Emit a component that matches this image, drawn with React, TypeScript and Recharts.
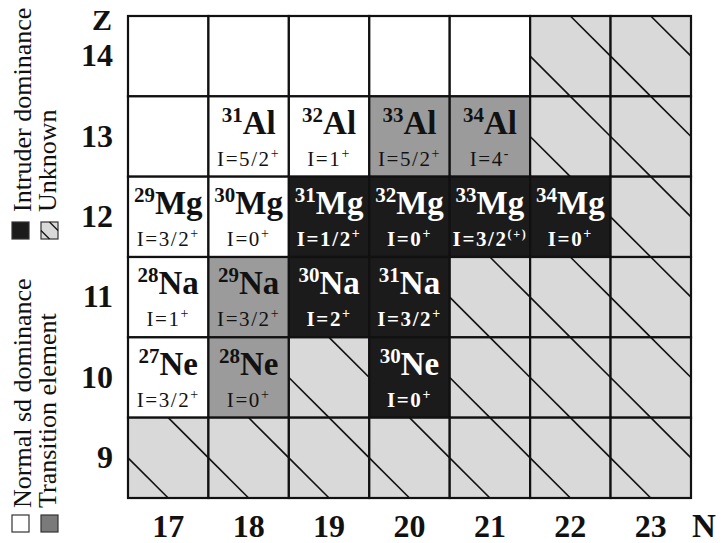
import React from 'react';
import { ScatterChart, Scatter, XAxis, YAxis, ReferenceArea, Legend } from 'recharts';

// Neutron number N (columns) and proton number Z (rows)
const neutronTicks = [17, 18, 19, 20, 21, 22, 23];
const protonTicks = [9, 10, 11, 12, 13, 14];

// Cell classes along N = 17..23 for each Z row
// W: normal sd dominance, T: transition element, I: intruder dominance, U: unknown
const rowZ14 = ['W', 'W', 'W', 'W', 'W', 'U', 'U'];
const rowZ13 = ['W', 'W', 'W', 'T', 'T', 'U', 'U'];
const rowZ12 = ['W', 'W', 'I', 'I', 'I', 'I', 'U'];
const rowZ11 = ['W', 'T', 'I', 'I', 'U', 'U', 'U'];
const rowZ10 = ['W', 'T', 'U', 'I', 'U', 'U', 'U'];
const rowZ9 = ['U', 'U', 'U', 'U', 'U', 'U', 'U'];

const rowsByZ: [number, string[]][] = [
  [14, rowZ14],
  [13, rowZ13],
  [12, rowZ12],
  [11, rowZ11],
  [10, rowZ10],
  [9, rowZ9],
];

// Labelled nuclei: mass number, symbol, ground-state spin and parity
const nuclei = [
  { n: 18, z: 13, mass: 31, symbol: 'Al', spin: '5/2', parity: '+' },
  { n: 19, z: 13, mass: 32, symbol: 'Al', spin: '1', parity: '+' },
  { n: 20, z: 13, mass: 33, symbol: 'Al', spin: '5/2', parity: '+' },
  { n: 21, z: 13, mass: 34, symbol: 'Al', spin: '4', parity: '-' },
  { n: 17, z: 12, mass: 29, symbol: 'Mg', spin: '3/2', parity: '+' },
  { n: 18, z: 12, mass: 30, symbol: 'Mg', spin: '0', parity: '+' },
  { n: 19, z: 12, mass: 31, symbol: 'Mg', spin: '1/2', parity: '+' },
  { n: 20, z: 12, mass: 32, symbol: 'Mg', spin: '0', parity: '+' },
  { n: 21, z: 12, mass: 33, symbol: 'Mg', spin: '3/2', parity: '(+)' },
  { n: 22, z: 12, mass: 34, symbol: 'Mg', spin: '0', parity: '+' },
  { n: 17, z: 11, mass: 28, symbol: 'Na', spin: '1', parity: '+' },
  { n: 18, z: 11, mass: 29, symbol: 'Na', spin: '3/2', parity: '+' },
  { n: 19, z: 11, mass: 30, symbol: 'Na', spin: '2', parity: '+' },
  { n: 20, z: 11, mass: 31, symbol: 'Na', spin: '3/2', parity: '+' },
  { n: 17, z: 10, mass: 27, symbol: 'Ne', spin: '3/2', parity: '+' },
  { n: 18, z: 10, mass: 28, symbol: 'Ne', spin: '0', parity: '+' },
  { n: 20, z: 10, mass: 30, symbol: 'Ne', spin: '0', parity: '+' },
];

// Legend entries, as two stacked pairs
const legendTop = ['Intruder dominance', 'Unknown'];
const legendBottom = ['Normal sd dominance', 'Transition element'];

const FONT = "'Liberation Serif', 'Times New Roman', serif";
const INK = '#111111';

const serif = (size: number, weight: string | number = 'normal', extra: object = {}) => ({
  fontFamily: FONT,
  fontSize: size,
  fontWeight: weight,
  ...extra,
});

const cellFill: Record<string, string> = {
  W: '#ffffff',
  T: '#9b9b9b',
  I: '#1b1b1b',
  U: '#d9d9d9',
};

const cells = rowsByZ.flatMap(([z, kinds]) =>
  kinds.map((kind, i) => ({ n: neutronTicks[i], z, kind }))
);

const kindAt = (n: number, z: number) => {
  const c = cells.find((d) => d.n === n && d.z === z);
  return c ? c.kind : 'W';
};

const CellShape = (props: any, kind: string) => {
  const { x, y, width, height } = props;
  const w = width;
  const h = height;
  return (
    <g>
      <rect x={x} y={y} width={w} height={h} fill={cellFill[kind]} stroke="none" />
      {kind === 'U' && (
        <g stroke={INK} strokeWidth={1.6}>
          <line x1={x + w / 2} y1={y} x2={x + w} y2={y + h / 2} />
          <line x1={x} y1={y + h / 2} x2={x + w / 2} y2={y + h} />
        </g>
      )}
      <rect x={x} y={y} width={w} height={h} fill="none" stroke={INK} strokeWidth={2.2} />
    </g>
  );
};

const NucleusLabel = (props: any) => {
  const { cx, cy, payload } = props;
  if (cx == null || cy == null) return null;
  const dark = kindAt(payload.n, payload.z) === 'I';
  const color = dark ? '#ffffff' : INK;
  const spinWeight = dark ? 'bold' : 'normal';
  return (
    <g>
      <text x={cx} y={cy - 3} textAnchor="middle" fill={color} style={serif(33, 'bold')}>
        <tspan dy={-12} style={serif(21, 'bold')}>{payload.mass}</tspan>
        <tspan dy={12} style={serif(33, 'bold')}>{payload.symbol}</tspan>
      </text>
      <text x={cx} y={cy + 29} textAnchor="middle" fill={color} style={serif(21, spinWeight, { letterSpacing: 1.6 })}>
        <tspan style={serif(21, spinWeight, { letterSpacing: 1.6 })}>{`I=${payload.spin}`}</tspan>
        <tspan dy={-8} style={serif(payload.parity.length > 1 ? 12 : 14, spinWeight)}>{payload.parity}</tspan>
      </text>
    </g>
  );
};

const XTick = (props: any) => {
  const { x, y, payload } = props;
  return (
    <text x={x} y={y + 39} textAnchor="middle" fill={INK} style={serif(32, 'bold')}>
      {payload.value}
    </text>
  );
};

const YTick = (props: any) => {
  const { x, y, payload } = props;
  return (
    <text x={x - 15} y={y + 10} textAnchor="end" fill={INK} style={serif(32, 'bold')}>
      {payload.value}
    </text>
  );
};

const ZLabel = (props: any) => {
  const { viewBox } = props;
  return (
    <text x={viewBox.x + viewBox.width - 16} y={viewBox.y + 14} textAnchor="end" fill={INK} style={serif(30, 'bold')}>
      Z
    </text>
  );
};

const NLabel = (props: any) => {
  const { viewBox } = props;
  return (
    <text x={viewBox.x + viewBox.width + 1} y={viewBox.y + 39} textAnchor="start" fill={INK} style={serif(33, 'bold')}>
      N
    </text>
  );
};

const Swatch = ({ x, y, kind }: { x: number; y: number; kind: string }) => {
  const s = 17;
  return (
    <g>
      <rect x={x} y={y} width={s} height={s} fill={kind === 'T' ? '#7a7a7a' : cellFill[kind]} stroke="#333" strokeWidth={1.2} />
      {kind === 'U' && (
        <g stroke={INK} strokeWidth={1.2}>
          <line x1={x + s / 2} y1={y} x2={x + s} y2={y + s / 2} />
          <line x1={x} y1={y + s / 2} x2={x + s / 2} y2={y + s} />
        </g>
      )}
    </g>
  );
};

const LegendText = ({ x, y, label }: { x: number; y: number; label: string }) => (
  <text x={x} y={y} transform={`rotate(-90 ${x} ${y})`} fill={INK} style={serif(26)}>
    {label}
  </text>
);

const LegendPanel = () => (
  <svg width={70} height={543} style={{ display: 'block' }}>
    <LegendText x={31} y={212} label={legendTop[0]} />
    <LegendText x={56} y={212} label={legendTop[1]} />
    <LegendText x={31} y={508} label={legendBottom[0]} />
    <LegendText x={56} y={508} label={legendBottom[1]} />
    <Swatch x={12} y={222} kind="I" />
    <Swatch x={41} y={222} kind="U" />
    <Swatch x={12} y={515} kind="W" />
    <Swatch x={41} y={515} kind="T" />
  </svg>
);

export default function App() {
  return (
    <div style={{ position: 'absolute', left: 0, top: 0, background: '#ffffff' }}>
      <ScatterChart width={723} height={543} margin={{ top: 16, right: 32, bottom: 0, left: 0 }}>
        <XAxis
          type="number"
          dataKey="n"
          domain={[16.5, 23.5]}
          ticks={neutronTicks}
          axisLine={false}
          tickLine={false}
          tickSize={0}
          tickMargin={0}
          height={45}
          tick={<XTick />}
          label={<NLabel />}
          allowDataOverflow
        />
        <YAxis
          type="number"
          dataKey="z"
          domain={[8.5, 14.5]}
          ticks={protonTicks}
          axisLine={false}
          tickLine={false}
          tickSize={0}
          tickMargin={0}
          width={128}
          tick={<YTick />}
          label={<ZLabel />}
          allowDataOverflow
        />
        {cells.map((c) => (
          <ReferenceArea
            key={`${c.n}-${c.z}`}
            x1={c.n - 0.5}
            x2={c.n + 0.5}
            y1={c.z - 0.5}
            y2={c.z + 0.5}
            ifOverflow="visible"
            shape={(p: any) => CellShape(p, c.kind)}
          />
        ))}
        <Scatter data={nuclei} isAnimationActive={false} shape={<NucleusLabel />} />
        <Legend
          layout="horizontal"
          align="center"
          verticalAlign="middle"
          content={<LegendPanel />}
          wrapperStyle={{ left: 0, top: 0, width: 70, height: 543 }}
        />
      </ScatterChart>
    </div>
  );
}
